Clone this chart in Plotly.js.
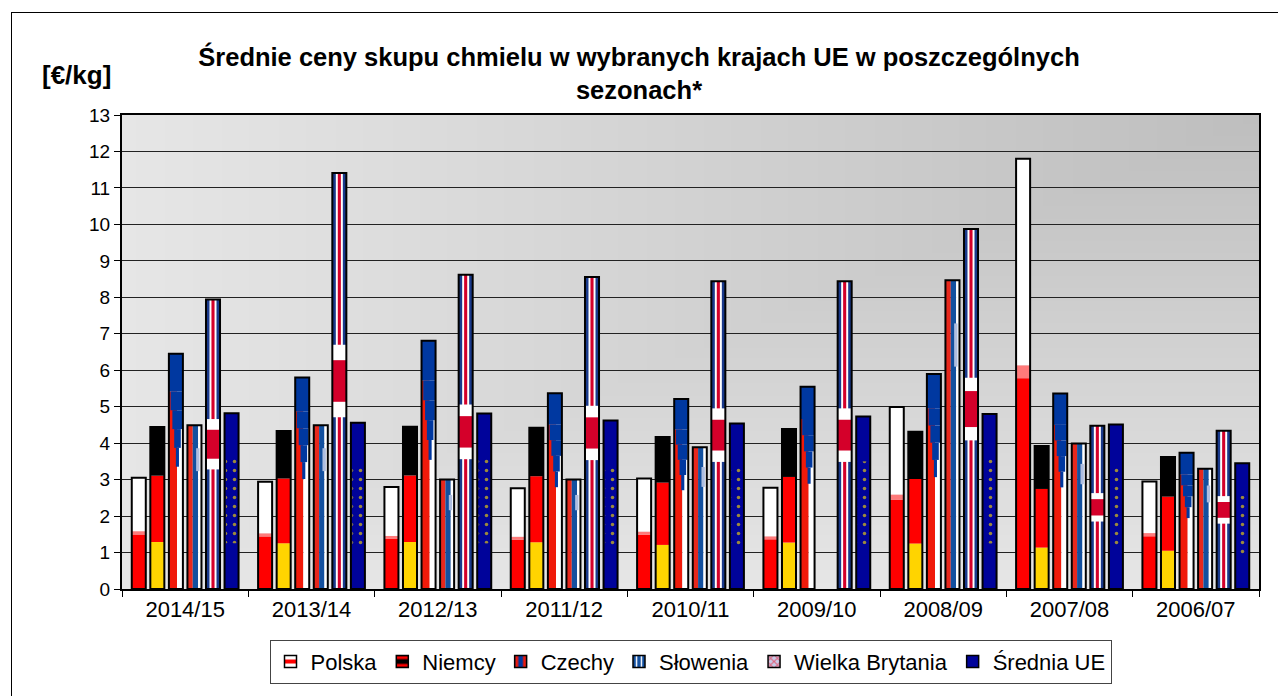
<!DOCTYPE html>
<html>
<head>
<meta charset="utf-8">
<script src="https://cdn.plot.ly/plotly-3.0.1.min.js"></script>
<style>
  html, body { margin:0; padding:0; background:#fff; overflow:hidden; }
  #chart { width:1278px; height:696px; }
  #frame { position:absolute; left:11px; top:12px; width:1400px; height:800px; border:1.5px solid #000; pointer-events:none; }
</style>
</head>
<body>
<div id="chart"></div>
<div id="frame"></div>
<script>
// ---- data ----
const categories = ['2014/15','2013/14','2012/13','2011/12','2010/11','2009/10','2008/09','2007/08','2006/07'];
const seriesNames = ['Polska','Niemcy','Czechy','Słowenia','Wielka Brytania','Średnia UE'];
const polska         = [3.05, 2.94, 2.80, 2.76, 3.03, 2.78, 4.99, 11.80, 2.95];
const niemcy         = [4.44, 4.33, 4.45, 4.42, 4.17, 4.39, 4.31, 3.92, 3.62];
const czechy         = [6.45, 5.80, 6.81, 5.37, 5.21, 5.55, 5.90, 5.36, 3.74];
const slowenia       = [4.49, 4.49, 3.00, 3.00, 3.89, null, 8.47, 3.99, 3.30];
const wielkaBrytania = [7.94, 11.41, 8.62, 8.56, 8.44, 8.44, 9.87, 4.48, 4.34];
const sredniaUE      = [4.82, 4.56, 4.81, 4.62, 4.54, 4.73, 4.80, 4.51, 3.45];
const yTicks = [0,1,2,3,4,5,6,7,8,9,10,11,12,13];

// ---- bar geometry (style) ----
const W = 0.111, P = 0.1469;
function leftEdge(i){ return (i - 2.5) * P - W / 2; }

const traces = [];
function seg(vals, i, f0, f1, d0, d1, color, pattern) {
  const t = {
    type:'bar', x:categories,
    y: vals.map(v => v == null ? null : v * (f1 - f0)),
    base: vals.map(v => v == null ? null : v * f0),
    offset: leftEdge(i) + d0 * W, width: (d1 - d0) * W,
    marker:{color:color, line:{width:0}},
    showlegend:false, hoverinfo:'skip'
  };
  if (pattern) t.marker.pattern = pattern;
  traces.push(t);
}
function outline(vals, i, name) {
  traces.push({
    type:'bar', x:categories, y:vals, name:name,
    offset: leftEdge(i), width: W,
    marker:{color:'rgba(0,0,0,0)', line:{color:'#000', width:2}},
    showlegend:false,
    hovertemplate:'%{x}<br>'+name+': %{y:.2f} €/kg<extra></extra>'
  });
}
function legendEntry(name, color, pattern) {
  const t = {
    type:'bar', x:[categories[0]], y:[null], name:name,
    marker:{color:color, line:{color:'#000', width:1.5}},
    showlegend:true, hoverinfo:'skip'
  };
  if (pattern) t.marker.pattern = pattern;
  traces.push(t);
}

// Polska: white over red
seg(polska, 0, 0, 0.49, 0, 1, '#ff0000');
seg(polska, 0, 0.49, 0.52, 0, 1, '#ff7a7a');
seg(polska, 0, 0.52, 1, 0, 1, '#ffffff');
outline(polska, 0, 'Polska');

// Niemcy: black / red / gold
seg(niemcy, 1, 0, 0.29, 0, 1, '#ffd400');
seg(niemcy, 1, 0.29, 0.70, 0, 1, '#ff0000');
seg(niemcy, 1, 0.70, 1, 0, 1, '#000000');
outline(niemcy, 1, 'Niemcy');

// Czechy: red | white with blue wedge from the top
seg(czechy, 2, 0, 0.84, 0, 0.58, '#f01a0a');
seg(czechy, 2, 0, 0.84, 0.58, 1, '#ffffff');
seg(czechy, 2, 0.84, 1, 0, 1, '#0038a0');
seg(czechy, 2, 0.76, 0.84, 0.12, 1, '#0038a0');
seg(czechy, 2, 0.68, 0.76, 0.25, 0.95, '#0038a0');
seg(czechy, 2, 0.60, 0.68, 0.38, 0.85, '#0038a0');
seg(czechy, 2, 0.52, 0.60, 0.5, 0.72, '#0038a0');
outline(czechy, 2, 'Czechy');

// Słowenia: red | blue | white (+ coat of arms hint)
seg(slowenia, 3, 0, 1, 0, 0.38, '#e8281c');
seg(slowenia, 3, 0, 1, 0.38, 0.76, '#13509f');
seg(slowenia, 3, 0, 1, 0.76, 1, '#ffffff');
seg(slowenia, 3, 0.72, 0.86, 0.62, 0.86, '#aebee0');
outline(slowenia, 3, 'Słowenia');

// Wielka Brytania: blue field, white + red vertical cross arm, horizontal cross arm
seg(wielkaBrytania, 4, 0, 1, 0, 1, '#1a3a8c');
seg(wielkaBrytania, 4, 0, 1, 0.25, 0.75, '#ffffff');
seg(wielkaBrytania, 4, 0, 1, 0.39, 0.61, '#d4002a');
seg(wielkaBrytania, 4, 0.413, 0.587, 0, 1, '#ffffff');
seg(wielkaBrytania, 4, 0.45, 0.55, 0, 1, '#d4002a');
outline(wielkaBrytania, 4, 'Wielka Brytania');

// Średnia UE: navy with star ring hint
seg(sredniaUE, 5, 0, 1, 0, 1, '#00039a');
seg(sredniaUE, 5, 0.26, 0.74, 0.1, 0.9, '#00039a', {shape:'.', fgcolor:'#9c8a3c', bgcolor:'#00039a', size:9, solidity:0.12});
outline(sredniaUE, 5, 'Średnia UE');

// legend entries
legendEntry('Polska', '#ff0000', {shape:'-', fgcolor:'#ffffff', bgcolor:'#ff0000', size:12, solidity:0.5});
legendEntry('Niemcy', '#000000', {shape:'-', fgcolor:'#ff0000', bgcolor:'#000000', size:12, solidity:0.4});
legendEntry('Czechy', '#0038a0', {shape:'|', fgcolor:'#f01a0a', bgcolor:'#0038a0', size:12, solidity:0.4});
legendEntry('Słowenia', '#13509f', {shape:'|', fgcolor:'#ffffff', bgcolor:'#13509f', size:6, solidity:0.3});
legendEntry('Wielka Brytania', '#1a3a8c', {shape:'x', fgcolor:'#e0607a', bgcolor:'#c8cce8', size:6, solidity:0.4});
legendEntry('Średnia UE', '#00039a');

// background gradient (from the top-right corner)
function makeBg() {
  const cw = 460, ch = 190;
  const c = document.createElement('canvas');
  c.width = cw; c.height = ch;
  const ctx = c.getContext('2d');
  const img = ctx.createImageData(cw, ch);
  const dark = 190, light = 230;
  for (let y = 0; y < ch; y++) {
    for (let x = 0; x < cw; x++) {
      const u = 1 - x / (cw - 1), v = y / (ch - 1);
      const t = Math.min(1, Math.max(u, v));
      const g = Math.round(dark + (light - dark) * t);
      const k = (y * cw + x) * 4;
      img.data[k] = g; img.data[k+1] = g; img.data[k+2] = g; img.data[k+3] = 255;
    }
  }
  ctx.putImageData(img, 0, 0);
  return c.toDataURL('image/png');
}

const FONT = 'Liberation Sans, Arial, sans-serif';
const layout = {
  width:1278, height:696,
  margin:{l:122, r:19, t:115, b:105},
  paper_bgcolor:'rgba(0,0,0,0)',
  plot_bgcolor:'#d8d8d8',
  barmode:'overlay',
  font:{family:FONT, color:'#000'},
  title:{
    text:'<b>Średnie ceny skupu chmielu w wybranych krajach UE w poszczególnych<br>sezonach*</b>',
    font:{family:FONT, size:25.5, color:'#000'},
    x:0.5, xref:'container', xanchor:'center',
    y:1 - 66/696, yref:'container', yanchor:'top'
  },
  xaxis:{
    type:'category', categoryorder:'array', categoryarray:categories,
    tickson:'boundaries', ticks:'outside', ticklen:6, tickcolor:'#000', tickwidth:1,
    showline:true, linecolor:'#000', linewidth:2, mirror:true,
    showgrid:false, tickfont:{family:FONT, size:22, color:'#000'},
    fixedrange:true
  },
  yaxis:{
    range:[0,13], tickvals:yTicks, ticktext:yTicks.map(String),
    ticks:'outside', ticklen:6, tickcolor:'#000', tickwidth:1,
    showline:true, linecolor:'#000', linewidth:2, mirror:true,
    showgrid:true, gridcolor:'#222', gridwidth:1.3, zeroline:false,
    tickfont:{family:FONT, size:19, color:'#000'},
    fixedrange:true
  },
  legend:{
    orientation:'h', x:0.5, xanchor:'center', y:-0.107, yanchor:'top',
    bgcolor:'#ffffff', bordercolor:'#444', borderwidth:1,
    font:{family:FONT, size:22, color:'#000'},
    traceorder:'normal'
  },
  annotations:[{
    text:'<b>[€/kg]</b>', xref:'paper', yref:'paper',
    x:(76-122)/1137, y:(591-75)/476, xanchor:'center', yanchor:'middle',
    showarrow:false, font:{family:FONT, size:26, color:'#000'}
  }],
  images:[{
    source: makeBg(), xref:'paper', yref:'paper', x:0, y:1, sizex:1, sizey:1,
    xanchor:'left', yanchor:'top', sizing:'stretch', layer:'below'
  }]
};

Plotly.newPlot('chart', traces, layout, {displayModeBar:false, staticPlot:false});
</script>
</body>
</html>
